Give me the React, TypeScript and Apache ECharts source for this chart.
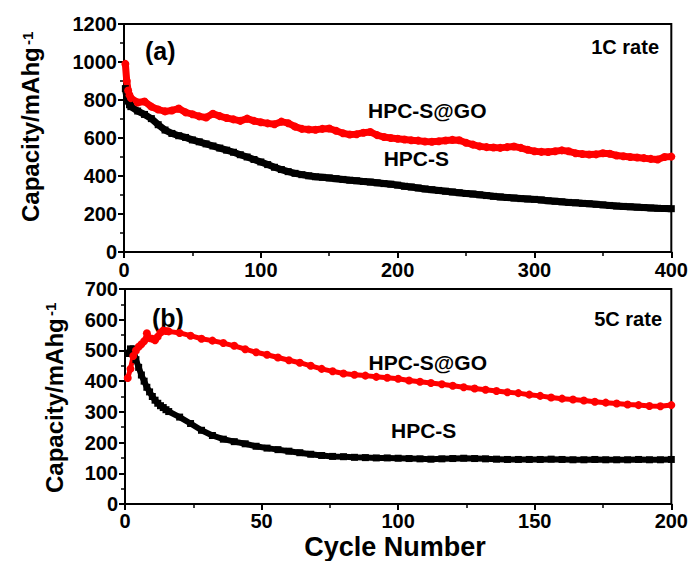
import React, { useEffect, useRef } from "react";
import * as echarts from "echarts";

// ---- Panel (a): 1C rate, 400 cycles ----
const topCycles = [1, 2, 3, 4, 5, 10, 15, 20, 25, 30, 35, 40, 45, 50, 55, 60, 65, 70, 75, 80, 85, 90, 95, 100, 105, 110, 115, 120, 125, 130, 135, 140, 145, 150, 155, 160, 165, 170, 175, 180, 185, 190, 195, 200, 205, 210, 215, 220, 225, 230, 235, 240, 245, 250, 255, 260, 265, 270, 275, 280, 285, 290, 295, 300, 305, 310, 315, 320, 325, 330, 335, 340, 345, 350, 355, 360, 365, 370, 375, 380, 385, 390, 395, 400];
const topGO = [990, 900, 850, 825, 810,
  787, 792, 765, 750, 740,
  745, 755, 735, 725, 714,
  708, 728, 715, 705, 698,
  690, 702, 690, 683, 677,
  672, 686, 678, 660, 648,
  645, 643, 648, 650, 638,
  625, 618, 620, 628, 632,
  615, 605, 600, 596, 592,
  588, 586, 582, 580, 583,
  587, 590, 588, 575, 565,
  556, 552, 550, 548, 552,
  555, 548, 538, 530, 527,
  526, 530, 535, 530, 520,
  516, 513, 514, 520, 517,
  508, 504, 500, 497, 494,
  490, 487, 500, 502];
const topHPCS = [860, 820, 795, 775, 765,
  742, 724, 702, 670, 642,
  624, 612, 603, 590, 580,
  569, 558, 547, 536, 525,
  512, 500, 487, 474, 460,
  446, 434, 423, 414, 407,
  401, 396, 393, 390, 386,
  382, 378, 375, 371, 368,
  364, 360, 357, 352, 346,
  342, 337, 332, 328, 324,
  320, 316, 312, 308, 305,
  301, 297, 293, 290, 287,
  284, 281, 279, 277, 274,
  270, 267, 264, 261, 259,
  256, 254, 251, 248, 245,
  242, 240, 238, 236, 234,
  232, 230, 229, 228];

// ---- Panel (b): 5C rate, 200 cycles ----
const botCycles = [1, 2, 3, 4, 5, 6, 7, 8, 9, 10, 11, 12, 13, 14, 15, 16, 20, 24, 28, 32, 36, 40, 44, 48, 52, 56, 60, 64, 68, 72, 76, 80, 84, 88, 92, 96, 100, 104, 108, 112, 116, 120, 124, 128, 132, 136, 140, 144, 148, 152, 156, 160, 164, 168, 172, 176, 180, 184, 188, 192, 196, 200];
const botGO = [410, 440, 482, 500, 512, 520, 530, 556, 540, 538, 533, 545, 558, 565, 563, 562,
  557, 548, 538, 532, 524,
  515, 504, 494, 486, 477,
  468, 460, 450, 440, 432,
  425, 421, 418, 414, 411,
  408, 402, 398, 394, 390,
  385, 380, 376, 372, 368,
  364, 361, 356, 352, 347,
  343, 340, 337, 333, 330,
  327, 324, 322, 319, 318,
  322];
const botHPCS = [490, 505, 505, 470, 445, 420, 400, 380, 365, 350, 338, 328, 320, 314, 307, 301,
  283, 262, 240, 223, 211,
  203, 196, 188, 182, 177,
  172, 167, 162, 158, 155,
  154, 152, 151, 150, 150,
  149, 148, 147, 146, 147,
  148, 149, 148, 147, 146,
  145, 145, 145, 145, 146,
  145, 144, 144, 145, 144,
  144, 144, 145, 144, 144,
  145];

const seriesNames = ["HPC-S@GO", "HPC-S"];
const panelTags = ["(a)", "(b)"];
const rateTags = ["1C rate", "5C rate"];
const yTitle = "Capacity/mAhg";
const yTitleSup = "-1";
const xTitle = "Cycle Number";

const FONT = "'Liberation Sans', Arial, Helvetica, sans-serif";

function pairs(xs: number[], ys: number[]) {
  return xs.map((x, i) => [x, ys[i]]);
}

export default function App() {
  const ref = useRef<HTMLDivElement>(null);

  useEffect(() => {
    if (!ref.current) return;
    const chart = echarts.init(ref.current, undefined, { renderer: "svg" });

    const axisBase = (gridIndex: number, min: number, max: number, interval: number, margin: number) => ({
      type: "value" as const,
      gridIndex,
      min,
      max,
      interval,
      axisLine: { show: true, onZero: false, lineStyle: { color: "#000", width: 2 } },
      axisTick: { show: true, inside: false, length: 6, lineStyle: { color: "#000", width: 2 } },
      minorTick: { show: true, splitNumber: 2, length: 4, lineStyle: { color: "#000", width: 1.5 } },
      splitLine: { show: false },
      axisLabel: {
        color: "#000",
        fontFamily: FONT,
        fontWeight: "bold" as const,
        fontSize: 20,
        margin,
        formatter: (v: number) => String(v),
      },
    });

    const textEl = (text: string, x: number, y: number, size: number, align: string, extra: any = {}) => ({
      type: "text",
      x,
      y,
      ...extra,
      style: {
        text,
        fill: "#000",
        font: `bold ${size}px ${FONT}`,
        textAlign: align,
        textVerticalAlign: "middle",
      },
    });

    const blackLine = (xi: number, xs: number[], ys: number[], w: number) => ({
      name: seriesNames[1], type: "line", xAxisIndex: xi, yAxisIndex: xi,
      data: pairs(xs, ys), symbol: "rect", symbolSize: 7, showSymbol: true,
      itemStyle: { color: "#000" }, lineStyle: { color: "#000", width: w },
    });
    const redLine = (xi: number, xs: number[], ys: number[], w: number) => ({
      name: seriesNames[0], type: "line", xAxisIndex: xi, yAxisIndex: xi,
      data: pairs(xs, ys), symbol: "circle", symbolSize: 8, showSymbol: true,
      itemStyle: { color: "#ff0000" }, lineStyle: { color: "#ff0000", width: w },
    });

    const option: any = {
      animation: false,
      backgroundColor: "#fff",
      grid: [
        { left: 124, top: 24, width: 549, height: 228, show: true, borderColor: "#000", borderWidth: 2, backgroundColor: "transparent" },
        { left: 125, top: 289, width: 549, height: 215, show: true, borderColor: "#000", borderWidth: 2, backgroundColor: "transparent" },
      ],
      xAxis: [axisBase(0, 0, 400, 100, 8), axisBase(1, 0, 200, 50, 7)],
      yAxis: [axisBase(0, 0, 1200, 200, 7), axisBase(1, 0, 700, 100, 7)],
      series: [
        blackLine(0, topCycles, topHPCS, 7),
        redLine(0, topCycles, topGO, 7),
        blackLine(1, botCycles, botHPCS, 6),
        redLine(1, botCycles, botGO, 5),
      ],
      graphic: [
        textEl(panelTags[0], 145, 51, 25, "left"),
        textEl(rateTags[0], 659, 47, 20, "right"),
        textEl(seriesNames[0], 368, 110, 21, "left"),
        textEl(seriesNames[1], 449, 158, 21, "right"),
        textEl(panelTags[1], 152, 318, 25, "left"),
        textEl(rateTags[1], 662, 319, 20, "right"),
        textEl(seriesNames[0], 487, 362, 21, "right"),
        textEl(seriesNames[1], 391, 430, 21, "left"),
        textEl(xTitle, 395, 547, 27, "center"),
        // y-axis titles (rotated)
        textEl(yTitle, 30, 222, 24, "left", { rotation: Math.PI / 2 }),
        textEl(yTitleSup, 27, 45, 15, "left", { rotation: Math.PI / 2 }),
        textEl(yTitle, 54, 493, 24, "left", { rotation: Math.PI / 2 }),
        textEl(yTitleSup, 50, 316, 15, "left", { rotation: Math.PI / 2 }),
      ],
    };

    chart.setOption(option);
    return () => chart.dispose();
  }, []);

  return (
    <div
      ref={ref}
      style={{ position: "fixed", left: 0, top: 0, width: 691, height: 561, background: "#fff" }}
    />
  );
}
